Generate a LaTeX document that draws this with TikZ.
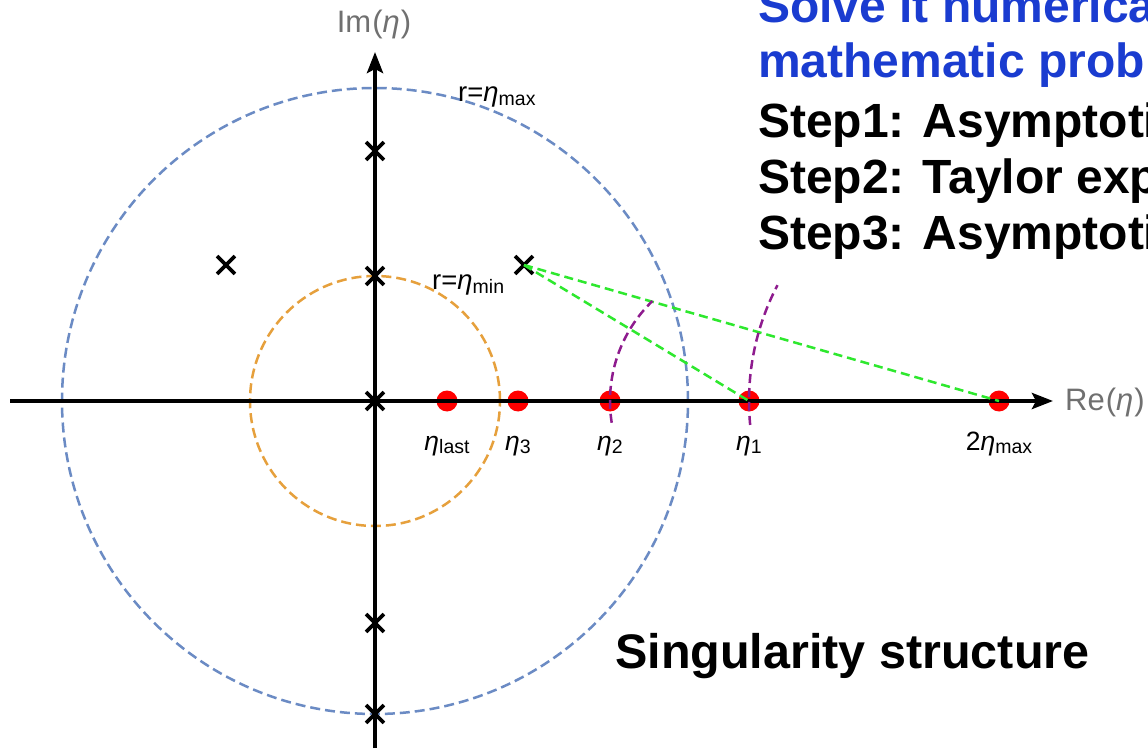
\documentclass[tikz,border=0pt]{standalone}
\usepackage{fontspec}
\setmainfont{Liberation Sans}
\usetikzlibrary{arrows.meta,shapes.misc,calc}
\definecolor{circblue}{HTML}{6B8BC4}
\definecolor{circorange}{HTML}{E6A03C}
\definecolor{linegreen}{HTML}{2EE82E}
\definecolor{arcpurple}{HTML}{8E1B8E}
\definecolor{axisgray}{HTML}{707070}
\definecolor{titleblue}{HTML}{1A3CD0}
\newcommand{\et}{\textit{η}}
\newcommand{\sbs}[1]{\raisebox{-0.12em}{\fontsize{19.5}{19.5}\selectfont #1}}
\tikzset{
  axisline/.style={line width=4pt,-{Stealth[length=21pt,width=16pt,inset=4pt]}},
  crossmark/.style={cross out,draw,minimum size=14pt,inner sep=0pt,line width=3.8pt},
  reddot/.style={circle,fill=red,minimum size=21pt,inner sep=0pt},
  bluecirc/.style={draw=circblue,line width=2.5pt,dash pattern=on 10pt off 5pt},
  orangecirc/.style={draw=circorange,line width=2.5pt,dash pattern=on 10pt off 5pt},
  greenline/.style={draw=linegreen,line width=2.5pt,dash pattern=on 9pt off 5pt},
  purplearc/.style={draw=arcpurple,line width=2.5pt,dash pattern=on 9pt off 5pt},
  axislabel/.style={text=axisgray,font=\fontsize{31}{31}\selectfont,inner sep=0pt},
  etalabel/.style={font=\fontsize{26.5}{26.5}\selectfont,inner sep=0pt,anchor=base},
  rlabel/.style={font=\fontsize{27.5}{27.5}\selectfont,inner sep=0pt,anchor=base west},
  bigtext/.style={font=\fontsize{48}{48}\selectfont\bfseries,inner sep=0pt,anchor=base west}
}
\begin{document}
\begin{tikzpicture}[x=1pt,y=1pt]
\useasboundingbox (0,0) rectangle (1148,748);
\clip (0,0) rectangle (1148,748);
\fill[white] (0,0) rectangle (1148,748);
\coordinate (O) at (375,347);
\coordinate (hl) at (10,347);
\coordinate (hr) at (1053,347);
\coordinate (vb) at (375,0);
\coordinate (vt) at (375,696);
% circles
\draw[bluecirc] (O) circle[radius=313];
\draw[orangecirc] (O) circle[radius=125];
% red dots
\node[reddot] (dl) at (447,347) {};
\node[reddot] (d3) at (518,347) {};
\node[reddot] (d2) at (610,347) {};
\node[reddot] (d1) at (749,347) {};
\node[reddot] (dm) at (999,347) {};
% axes
\draw[axisline] (hl) -- (hr);
\draw[axisline] (vb) -- (vt);
% crosses
\node[crossmark] (x1) at (375,597) {};
\node[crossmark] (x2) at (375,472) {};
\node[crossmark] (x3) at (375,347) {};
\node[crossmark] (x4) at (375,125) {};
\node[crossmark] (x5) at (375,34) {};
\node[crossmark] (x6) at (226,483) {};
\node[crossmark] (x7) at (524,483) {};
% green lines
\draw[greenline] (x7.center) -- (d1.center);
\draw[greenline] (x7.center) -- (dm.center);
% purple arcs
\draw[purplearc] ($(d1.center)+(189:139)$) arc[start angle=189,end angle=134,radius=139];
\draw[purplearc] ($(dm.center)+(185.5:250)$) arc[start angle=185.5,end angle=152.4,radius=250];
% axis labels
\node[axislabel,anchor=base] (imlab) at (374,715) {Im\kern1pt(\et\kern1pt)};
\node[axislabel,anchor=base west] (relab) at (1065,338) {Re\kern1pt(\et\kern1pt)};
% circle labels
\node[rlabel] (rmax) at (458,646) {r=\et\sbs{max}};
\node[rlabel] (rmin) at (432,458) {r=\et\sbs{min}};
% eta labels
\node[etalabel] (ll) at (447,298) {\et\sbs{last}};
\node[etalabel] (l3) at (518,298) {\et\sbs{3}};
\node[etalabel] (l2) at (610,298) {\et\sbs{2}};
\node[etalabel] (l1) at (749,298) {\et\sbs{1}};
\node[etalabel] (lm) at (999,298) {2\et\sbs{max}};
% text
\node[bigtext,text=titleblue] (t1) at (758,725) {Solve it numerica};
\node[bigtext,text=titleblue] (t2) at (758,670) {mathematic prob};
\node[bigtext] (s1) at (758,610) {Step1: Asymptoti};
\node[bigtext] (s2) at (758,554) {Step2: Taylor exp};
\node[bigtext] (s3) at (758,498) {Step3: Asymptoti};
\node[bigtext,font=\fontsize{48.5}{48.5}\selectfont\bfseries] (sing) at (615,80) {Singularity structure};
\end{tikzpicture}
\end{document}
